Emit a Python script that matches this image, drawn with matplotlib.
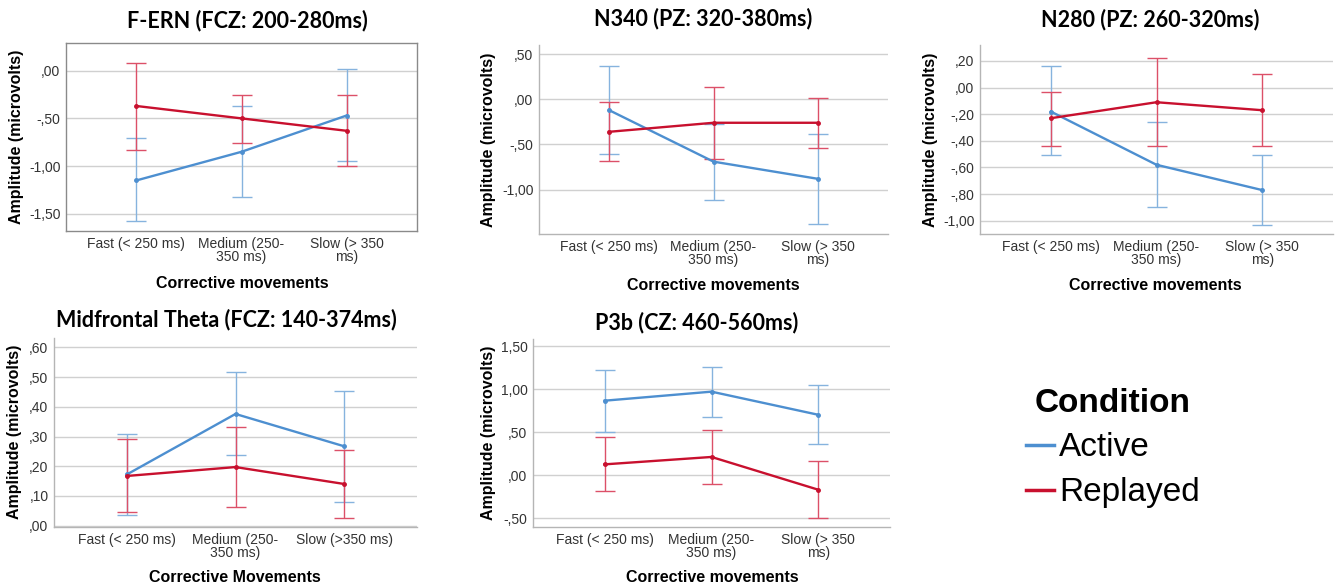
import matplotlib.pyplot as plt
from matplotlib.ticker import FuncFormatter

W, H = 1338, 587

# categories (x tick labels)
cats = ["Fast (< 250 ms)", "Medium (250-\n350 ms)", "Slow (> 350\nms)"]
cats_theta = ["Fast (< 250 ms)", "Medium (250-\n350 ms)", "Slow (>350 ms)"]

# F-ERN
fern_act = [-1.15, -0.85, -0.47]
fern_act_lo = [-1.58, -1.32, -0.95]
fern_act_hi = [-0.71, -0.37, 0.02]
fern_rep = [-0.37, -0.50, -0.63]
fern_rep_lo = [-0.83, -0.76, -1.00]
fern_rep_hi = [0.08, -0.25, -0.26]

# N340
n340_act = [-0.12, -0.69, -0.88]
n340_act_lo = [-0.61, -1.11, -1.38]
n340_act_hi = [0.37, -0.27, -0.38]
n340_rep = [-0.36, -0.26, -0.26]
n340_rep_lo = [-0.68, -0.66, -0.54]
n340_rep_hi = [-0.03, 0.14, 0.01]

# N280
n280_act = [-0.18, -0.58, -0.77]
n280_act_lo = [-0.51, -0.90, -1.03]
n280_act_hi = [0.16, -0.26, -0.51]
n280_rep = [-0.23, -0.11, -0.17]
n280_rep_lo = [-0.44, -0.44, -0.44]
n280_rep_hi = [-0.03, 0.22, 0.10]

# Midfrontal theta
theta_act = [0.172, 0.376, 0.267]
theta_act_lo = [0.034, 0.237, 0.078]
theta_act_hi = [0.31, 0.517, 0.455]
theta_rep = [0.167, 0.197, 0.14]
theta_rep_lo = [0.045, 0.064, 0.026]
theta_rep_hi = [0.29, 0.332, 0.254]

# P3b
p3b_act = [0.868, 0.973, 0.704]
p3b_act_lo = [0.506, 0.68, 0.366]
p3b_act_hi = [1.226, 1.265, 1.047]
p3b_rep = [0.128, 0.214, -0.167]
p3b_rep_lo = [-0.187, -0.105, -0.494]
p3b_rep_hi = [0.447, 0.525, 0.163]

blue = '#4d8fd0'
blue_err = '#86b3de'
red = '#c8102e'
red_err = '#dc5068'

plt.rcParams['font.family'] = ['Liberation Sans', 'DejaVu Sans']


def spss(v, pos):
    # SPSS style: comma decimal, no leading zero
    s = f"{abs(v):.2f}".replace('.', ',')
    if s.startswith('0'):
        s = s[1:]
    return ('-' if v < -1e-9 else '') + s


def px(x, y):
    return x / W, 1 - y / H


def panel(rect, cats, am, alo, ahi, rm, rlo, rhi, ylim, yticks, title, tpos, xlab, xlpos, ylpos, boxed=False):
    l, t, r, b = rect
    ax = fig.add_axes([l / W, 1 - b / H, (r - l) / W, (b - t) / H])
    x = list(range(len(cats)))
    ax.errorbar(x, am, yerr=[[m - lo for m, lo in zip(am, alo)], [hi - m for m, hi in zip(am, ahi)]],
                fmt='none', ecolor=blue_err, elinewidth=1, capsize=7, capthick=1)
    ax.errorbar(x, rm, yerr=[[m - lo for m, lo in zip(rm, rlo)], [hi - m for m, hi in zip(rm, rhi)]],
                fmt='none', ecolor=red_err, elinewidth=1, capsize=7, capthick=1)
    la, = ax.plot(x, am, color=blue, lw=1.7, marker='o', ms=2.5)
    lr, = ax.plot(x, rm, color=red, lw=1.7, marker='o', ms=2.5)
    ax.set_xlim(-0.67, 2.67)
    ax.set_ylim(*ylim)
    ax.set_yticks(yticks)
    ax.yaxis.set_major_formatter(FuncFormatter(spss))
    ax.set_xticks(x)
    ax.set_xticklabels(cats, linespacing=0.95)
    ax.tick_params(length=0, labelsize=10, labelcolor='#333333', pad=4)
    ax.grid(axis='y', color='#d0d0d0', lw=1)
    ax.set_axisbelow(True)
    for s in ['top', 'right', 'left', 'bottom']:
        ax.spines[s].set_color('#8a8a8a' if boxed else '#b5b5b5')
        ax.spines[s].set_linewidth(1)
    if not boxed:
        ax.spines['top'].set_visible(False)
        ax.spines['right'].set_visible(False)
    fig.text(*px(*tpos), title, ha='center', va='center', fontsize=15.5,
             fontweight='bold', family=['Lato', 'DejaVu Sans'])
    fig.text(*px(*xlpos), xlab, ha='center', va='center', fontsize=11.5, fontweight='bold')
    fig.text(*px(*ylpos), 'Amplitude (microvolts)', ha='center', va='center', fontsize=11.5,
             fontweight='bold', rotation=90)
    return la, lr


fig = plt.figure(figsize=(W / 100, H / 100), dpi=100)

panel((66, 43, 417, 231), cats, fern_act, fern_act_lo, fern_act_hi, fern_rep, fern_rep_lo, fern_rep_hi,
      (-1.68, 0.29), [-1.5, -1.0, -0.5, 0.0], 'F-ERN (FCZ: 200-280ms)', (247, 21),
      'Corrective movements', (242, 283), (17, 137), boxed=True)
panel((539, 45, 888, 234), cats, n340_act, n340_act_lo, n340_act_hi, n340_rep, n340_rep_lo, n340_rep_hi,
      (-1.49, 0.6), [-1.0, -0.5, 0.0, 0.5], 'N340 (PZ: 320-380ms)', (703, 19),
      'Corrective movements', (713, 286), (488, 140))
panel((980, 45, 1333, 234), cats, n280_act, n280_act_lo, n280_act_hi, n280_rep, n280_rep_lo, n280_rep_hi,
      (-1.10, 0.32), [-1.0, -0.8, -0.6, -0.4, -0.2, 0.0, 0.2], 'N280 (PZ: 260-320ms)', (1150, 20),
      'Corrective movements', (1155, 286), (930, 140))
panel((54, 338, 417, 527), cats_theta, theta_act, theta_act_lo, theta_act_hi, theta_rep, theta_rep_lo,
      theta_rep_hi, (-0.005, 0.632), [0.0, 0.1, 0.2, 0.3, 0.4, 0.5, 0.6], 'Midfrontal Theta (FCZ: 140-374ms)',
      (226, 320), 'Corrective Movements', (235, 577), (15, 432))
la, lr = panel((533, 339, 890, 527), cats, p3b_act, p3b_act_lo, p3b_act_hi, p3b_rep, p3b_rep_lo, p3b_rep_hi,
               (-0.60, 1.585), [-0.5, 0.0, 0.5, 1.0, 1.5], 'P3b (CZ: 460-560ms)', (697, 323),
               'Corrective movements', (712, 577), (488, 433))

leg = fig.legend([la, lr], ['Active', 'Replayed'], title='Condition', loc='center',
                 bbox_to_anchor=px(1113, 448), frameon=False, fontsize=24,
                 title_fontproperties={'weight': 'bold', 'size': 24},
                 handlelength=0.85, handletextpad=0.15, labelspacing=0.42, borderaxespad=0)
for line in leg.get_lines():
    line.set_linewidth(2.5)
    line.set_marker('')

fig.savefig('out.png', dpi=100)
